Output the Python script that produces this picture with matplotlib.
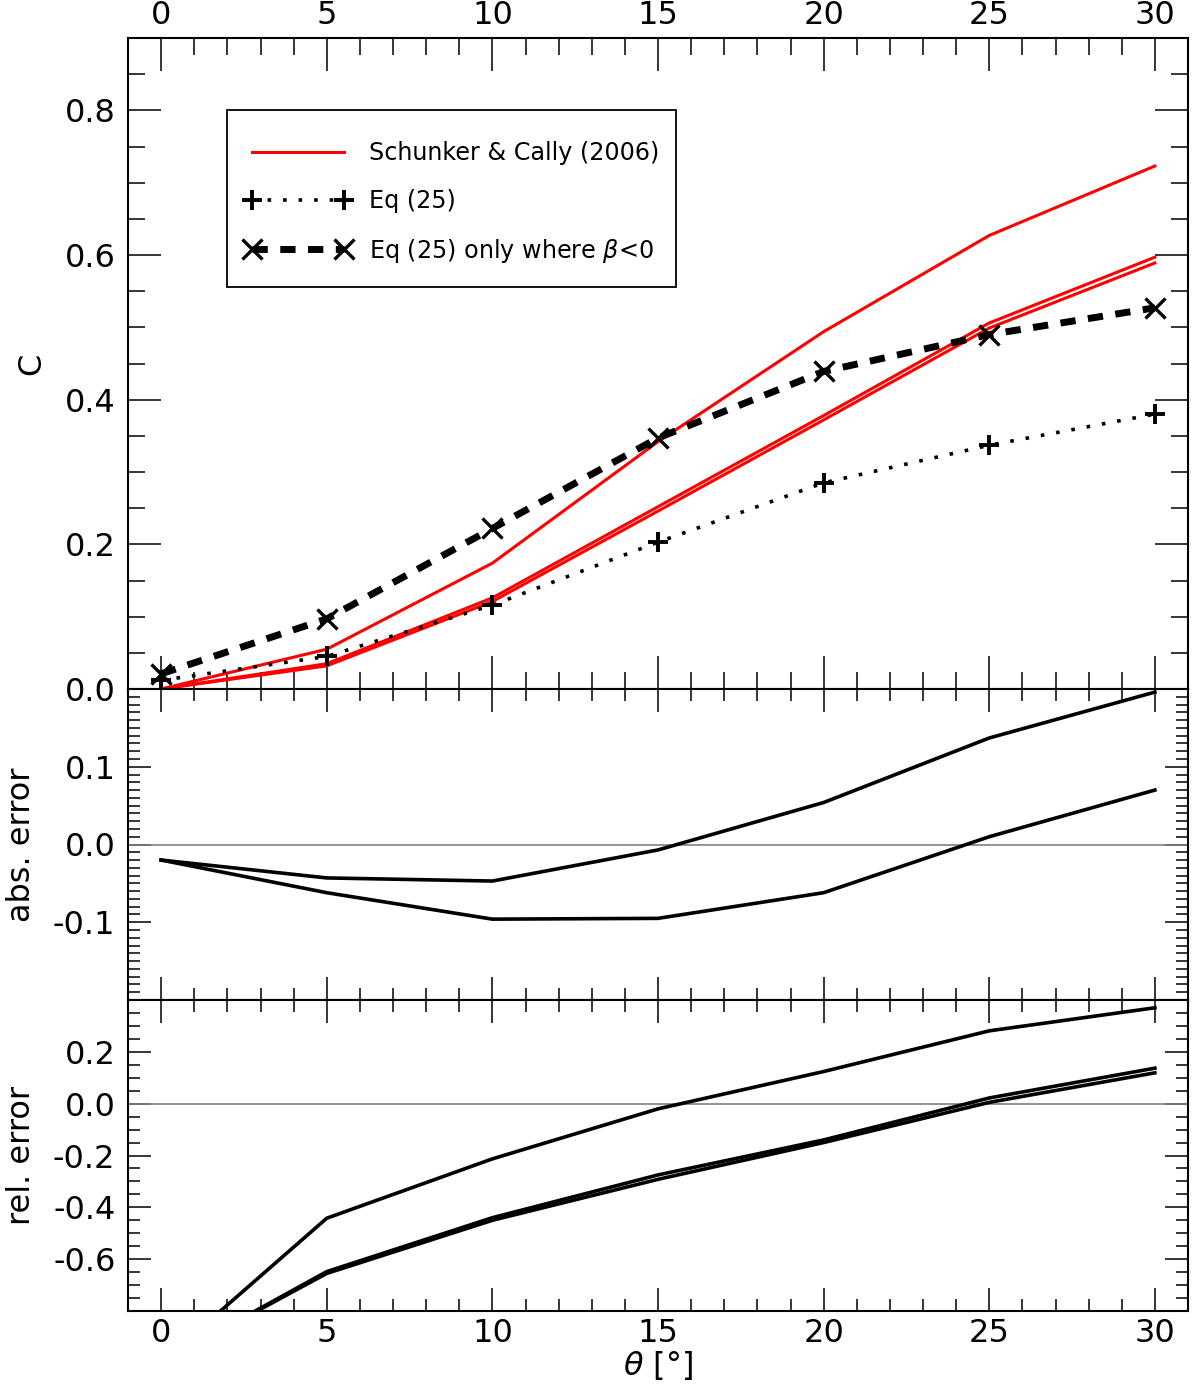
import matplotlib
matplotlib.use("Agg")
import matplotlib.pyplot as plt
from matplotlib.ticker import MultipleLocator, FormatStrFormatter, FixedLocator
from matplotlib.patches import Rectangle

plt.rcParams['font.family'] = ['DejaVu Sans']
plt.rcParams['axes.unicode_minus'] = False
plt.rcParams['mathtext.fontset'] = 'dejavusans'

# ---------------- data ----------------
theta = [0, 5, 10, 15, 20, 25, 30]

# Schunker & Cally (2006), three curves
sc_1 = [0.0, 0.055, 0.174, 0.342, 0.494, 0.627, 0.723]
sc_2 = [0.0, 0.035, 0.126, 0.252, 0.378, 0.506, 0.597]
sc_3 = [0.0, 0.032, 0.121, 0.246, 0.372, 0.499, 0.589]

eq25 = [0.012, 0.045, 0.116, 0.203, 0.285, 0.337, 0.380]
eq25_beta = [0.021, 0.097, 0.222, 0.347, 0.439, 0.490, 0.527]

abs_err_1 = [-0.020, -0.043, -0.047, -0.007, 0.054, 0.137, 0.196]
abs_err_2 = [-0.020, -0.062, -0.096, -0.095, -0.062, 0.010, 0.070]

rel_err_1 = [-1.0, -0.442, -0.213, -0.020, 0.124, 0.281, 0.370]
rel_err_2 = [-1.0, -0.648, -0.440, -0.275, -0.140, 0.022, 0.137]
rel_err_3 = [-1.0, -0.655, -0.450, -0.292, -0.150, 0.005, 0.119]

legend_labels = ["Schunker & Cally (2006)", "Eq (25)", r"Eq (25) only where $\beta$<0"]

# ---------------- figure ----------------
W, H = 1200, 1388
fig = plt.figure(figsize=(W / 100, H / 100), dpi=100)

left, right = 128 / W, 1188 / W
def rect(top_px, bot_px):
    return [left, 1 - bot_px / H, right - left, (bot_px - top_px) / H]

ax1 = fig.add_axes(rect(38, 689))
ax2 = fig.add_axes(rect(689, 1000))
ax3 = fig.add_axes(rect(1000, 1311))

FS = 23
for ax in (ax1, ax2, ax3):
    ax.set_xlim(-1, 31)
    for s in ax.spines.values():
        s.set_linewidth(1.5)
    ax.xaxis.set_major_locator(MultipleLocator(5))
    ax.xaxis.set_minor_locator(MultipleLocator(1))
    ax.yaxis.set_major_formatter(FormatStrFormatter('%.1f'))
    ax.tick_params(which='both', direction='in', top=True, bottom=True,
                   left=True, right=True, width=1.1, labelsize=FS, colors='black')

# top panel
ax1.set_ylim(0, 0.9)
ax1.yaxis.set_major_locator(FixedLocator([0.0, 0.2, 0.4, 0.6, 0.8]))
ax1.yaxis.set_minor_locator(MultipleLocator(0.05))
ax1.tick_params(which='major', length=24)
ax1.tick_params(which='minor', length=12)
ax1.tick_params(axis='x', labeltop=True, labelbottom=False, pad=5)
ax1.tick_params(axis='y', pad=9)

# middle panel
ax2.set_ylim(-0.2, 0.2)
ax2.yaxis.set_major_locator(FixedLocator([-0.1, 0.0, 0.1]))
ax2.yaxis.set_minor_locator(MultipleLocator(0.01))
ax2.tick_params(which='major', length=16.5)
ax2.tick_params(which='minor', length=8.3)
ax2.tick_params(axis='x', labeltop=False, labelbottom=False)
ax2.tick_params(axis='y', pad=9)

# bottom panel
ax3.set_ylim(-0.8, 0.4)
ax3.yaxis.set_major_locator(FixedLocator([-0.6, -0.4, -0.2, 0.0, 0.2]))
ax3.yaxis.set_minor_locator(MultipleLocator(0.05))
ax3.tick_params(which='major', length=16.5)
ax3.tick_params(which='minor', length=8.3)
ax3.tick_params(axis='x', labeltop=False, labelbottom=True, pad=5)
ax3.tick_params(axis='y', pad=9)

# ---- plot top ----
red = '#ff0000'
l_sc, = ax1.plot(theta, sc_1, color=red, lw=2.2, label=legend_labels[0])
ax1.plot(theta, sc_2, color=red, lw=2.2)
ax1.plot(theta, sc_3, color=red, lw=2.2)
l_eq, = ax1.plot(theta, eq25, color='black', lw=2.6, ls=(0, (1, 3.3)),
                 marker='+', ms=15, mew=2.8, label=legend_labels[1])
l_eqb, = ax1.plot(theta, eq25_beta, color='black', lw=5, ls=(0, (2.2, 1.8)),
                  marker='x', ms=15, mew=2.4, label=legend_labels[2])

leg = ax1.legend(handles=[l_sc, l_eq, l_eqb], loc='upper left',
                 bbox_to_anchor=(245 / W, 1 - 141 / H), bbox_transform=fig.transFigure,
                 fontsize=17.2, frameon=False, borderpad=0, handlelength=4.43,
                 handletextpad=0.75, labelspacing=1.0, numpoints=2,
                 borderaxespad=0)
fig.add_artist(Rectangle((227 / W, 1 - 287 / H), 449 / W, 177 / H,
                         transform=fig.transFigure, fill=False,
                         edgecolor='black', lw=1.3))

ax1.set_ylabel('C', fontsize=FS)

# ---- plot middle ----
ax2.axhline(0, color='#808080', lw=1.2)
ax2.plot(theta, abs_err_1, color='black', lw=2.6)
ax2.plot(theta, abs_err_2, color='black', lw=2.6)
ax2.set_ylabel('abs. error', fontsize=FS)

# ---- plot bottom ----
ax3.axhline(0, color='#808080', lw=1.2)
ax3.plot(theta, rel_err_1, color='black', lw=2.6)
ax3.plot(theta, rel_err_2, color='black', lw=2.6)
ax3.plot(theta, rel_err_3, color='black', lw=2.6)
ax3.set_ylabel('rel. error', fontsize=FS)
ax3.set_xlabel(r'$\theta$ [°]', fontsize=FS, labelpad=0)

ax1.yaxis.set_label_coords(-0.076, 0.5)
ax2.yaxis.set_label_coords(-0.0855, 0.5)
ax3.yaxis.set_label_coords(-0.0855, 0.5)

fig.savefig('out.png', dpi=100)
